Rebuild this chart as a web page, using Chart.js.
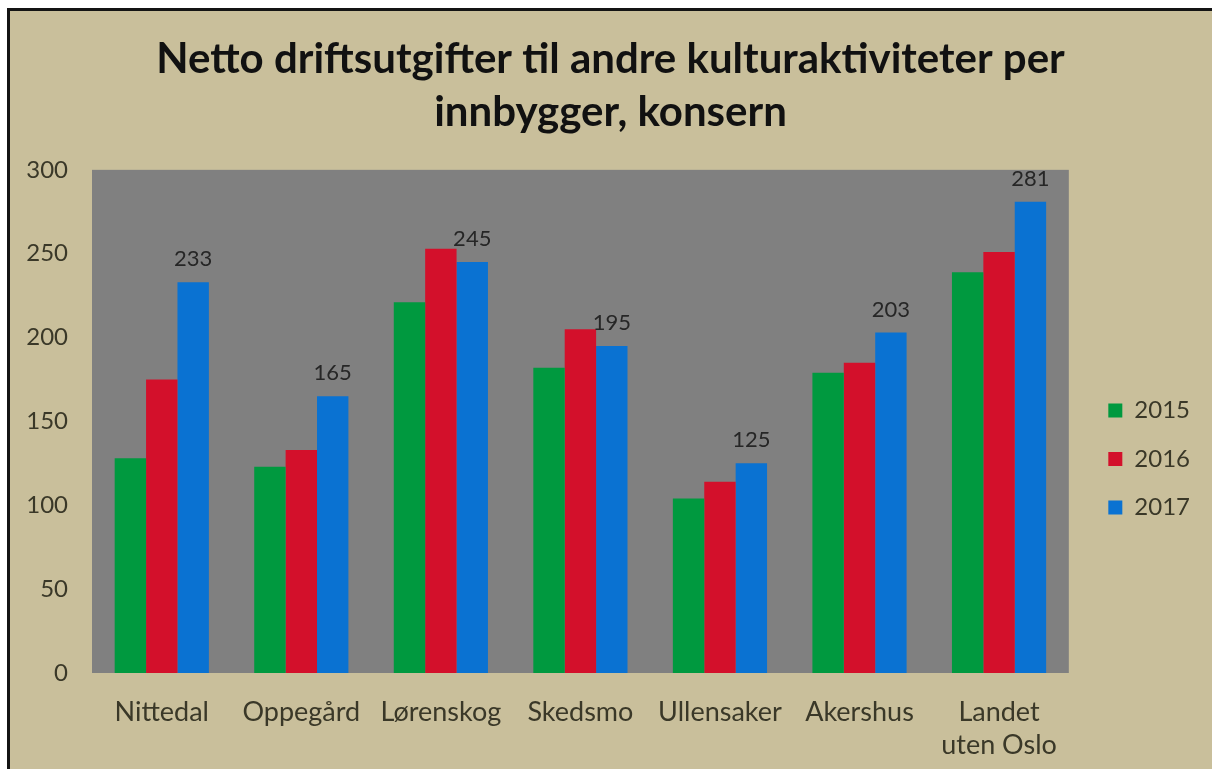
<!DOCTYPE html>
<html>
<head>
<meta charset="utf-8">
<script src="https://cdn.jsdelivr.net/npm/chart.js@4"></script>
<style>
  html, body { margin: 0; padding: 0; background: #ffffff; }
  #frame {
    position: absolute; left: 7px; top: 8px;
    width: 1205px; height: 761px;
    background: #C9BF9B;
    border-left: 3px solid #141414;
    border-top: 3px solid #141414;
    box-sizing: border-box;
  }
  #wrap { position: absolute; left: 0; top: 0; width: 1202px; height: 758px; }
</style>
</head>
<body>
<div id="frame"><div id="wrap"><canvas id="c"></canvas></div></div>
<script>
const titleLines = ["Netto driftsutgifter til andre kulturaktiviteter per", "innbygger, konsern"];
const categories = ["Nittedal", "Oppegård", "Lørenskog", "Skedsmo", "Ullensaker", "Akershus", ["Landet", "uten Oslo"]];
const seriesNames = ["2015", "2016", "2017"];
const values2015 = [128, 123, 221, 182, 104, 179, 239];
const values2016 = [175, 133, 253, 205, 114, 185, 251];
const values2017 = [233, 165, 245, 195, 125, 203, 281];
const yTicks = [0, 50, 100, 150, 200, 250, 300];
const labelledSeries = 2;

const colors = ["#00993F", "#D3102B", "#0A72D2"];
const textColor = "#3A3828";
const FONT = "Lato, 'Open Sans', sans-serif";

const plotBg = {
  id: "plotBg",
  beforeDraw(chart) {
    const a = chart.chartArea, ctx = chart.ctx;
    ctx.save();
    ctx.fillStyle = "#808080";
    ctx.fillRect(a.left, a.top, a.right - a.left, a.bottom - a.top);
    ctx.restore();
  }
};

const boxShift = {
  id: "boxShift",
  afterLayout(chart) {
    const lg = chart.legend;
    if (lg) {
      lg.left += 15; lg.right += 15;
      lg.top += 69; lg.bottom += 69;
    }
    const tb = chart.titleBlock;
    if (tb) {
      tb.left += 13; tb.right += 13;
    }
  }
};

const valueLabels = {
  id: "valueLabels",
  afterDatasetsDraw(chart) {
    const ctx = chart.ctx;
    const meta = chart.getDatasetMeta(labelledSeries);
    const data = chart.data.datasets[labelledSeries].data;
    ctx.save();
    ctx.font = "22px " + FONT;
    ctx.fillStyle = "#262626";
    ctx.textAlign = "center";
    ctx.textBaseline = "middle";
    meta.data.forEach((el, i) => {
      ctx.fillText(String(data[i]), el.x, el.y - 23);
    });
    ctx.restore();
  }
};

new Chart(document.getElementById("c"), {
  type: "bar",
  data: {
    labels: categories,
    datasets: [
      { label: seriesNames[0], data: values2015, backgroundColor: colors[0] },
      { label: seriesNames[1], data: values2016, backgroundColor: colors[1] },
      { label: seriesNames[2], data: values2017, backgroundColor: colors[2] }
    ]
  },
  options: {
    responsive: true,
    maintainAspectRatio: false,
    animation: false,
    layout: { padding: { left: 0, right: 27, top: 0, bottom: 0 } },
    datasets: { bar: { categoryPercentage: 0.675, barPercentage: 1.0, borderWidth: 0 } },
    plugins: {
      title: {
        display: true,
        text: titleLines,
        color: "#111111",
        font: { family: FONT, size: 42, weight: "bold", lineHeight: 1.26 },
        padding: { top: 22, bottom: 31 }
      },
      legend: {
        position: "right",
        align: "center",
        labels: {
          boxWidth: 14, boxHeight: 14, padding: 24.5,
          color: textColor,
          font: { family: FONT, size: 24 }
        }
      },
      tooltip: { enabled: false }
    },
    scales: {
      x: {
        grid: { display: false, drawTicks: false },
        border: { display: false },
        ticks: { color: textColor, font: { family: FONT, size: 27, lineHeight: 1.22 }, padding: 23, maxRotation: 0, autoSkip: false },
        afterFit(scale) { scale.height = 96; }
      },
      y: {
        min: 0, max: 300,
        grid: { display: false, drawTicks: false },
        border: { display: false },
        afterBuildTicks(scale) { scale.ticks = yTicks.map(v => ({ value: v })); },
        ticks: { color: textColor, font: { family: FONT, size: 24 }, padding: 24 },
        afterFit(scale) { scale.width = 82; }
      }
    }
  },
  plugins: [plotBg, boxShift, valueLabels]
});
</script>
</body>
</html>
